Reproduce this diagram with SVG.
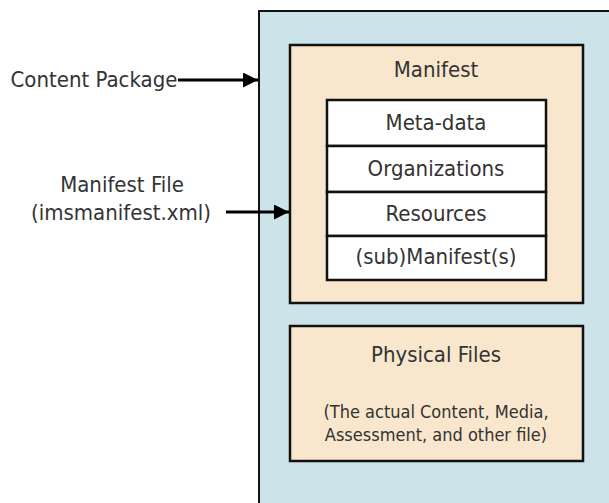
<svg xmlns="http://www.w3.org/2000/svg" width="609" height="503" viewBox="0 0 609 503">
  <defs>
    <marker id="arrow" viewBox="0 0 10 10" refX="10" refY="5" markerWidth="5" markerHeight="5" markerUnits="strokeWidth" orient="auto">
      <path d="M0,0 L10,5 L0,10 z" fill="#000"/>
    </marker>
    <style>
      text { font-family: "DejaVu Sans Condensed", "DejaVu Sans", sans-serif; font-stretch: condensed; fill: #333; text-anchor: middle; }
      .lbl { font-size: 22px; }
      .sm { font-size: 18px; }
      .pkg { fill: #cce3ea; stroke: #111; stroke-width: 2; }
      .part { fill: #f8e6cd; stroke: #111; stroke-width: 2.5; }
      .row { fill: #fff; stroke: #111; stroke-width: 2.5; }
      .conn { stroke: #000; stroke-width: 3; fill: none; marker-end: url(#arrow); }
    </style>
  </defs>
  <rect width="609" height="503" fill="#fff"/>

  <!-- content package container -->
  <g id="package">
    <rect class="pkg" x="259" y="11" width="360" height="500"/>
  </g>

  <!-- manifest with its sections -->
  <g id="manifest">
    <rect class="part" x="290" y="45" width="293" height="258"/>
    <text class="lbl" x="436" y="77">Manifest</text>
  </g>
  <g id="metadata">
    <rect class="row" x="327" y="100" width="219" height="46"/>
    <text class="lbl" x="436" y="130">Meta-data</text>
  </g>
  <g id="organizations">
    <rect class="row" x="327" y="146" width="219" height="46"/>
    <text class="lbl" x="436" y="176">Organizations</text>
  </g>
  <g id="resources">
    <rect class="row" x="327" y="192" width="219" height="44"/>
    <text class="lbl" x="436" y="221">Resources</text>
  </g>
  <g id="submanifest">
    <rect class="row" x="327" y="236" width="219" height="44"/>
    <text class="lbl" x="436" y="264">(sub)Manifest(s)</text>
  </g>

  <!-- physical files -->
  <g id="physical-files">
    <rect class="part" x="290" y="326" width="293" height="135"/>
    <text class="lbl" x="436" y="362">Physical Files</text>
    <text class="sm" x="436" y="418">(The actual Content, Media,</text>
    <text class="sm" x="436" y="441">Assessment, and other file)</text>
  </g>

  <!-- side labels -->
  <g id="label-package">
    <text class="lbl" x="94" y="87">Content Package</text>
  </g>
  <g id="label-manifest-file">
    <text class="lbl" x="122" y="192">Manifest File</text>
    <text class="lbl" x="121" y="220">(imsmanifest.xml)</text>
  </g>

  <g id="connectors">
    <line class="conn" x1="178" y1="80" x2="258" y2="80"/>
    <line class="conn" x1="226" y1="212" x2="289" y2="212"/>
  </g>
</svg>
